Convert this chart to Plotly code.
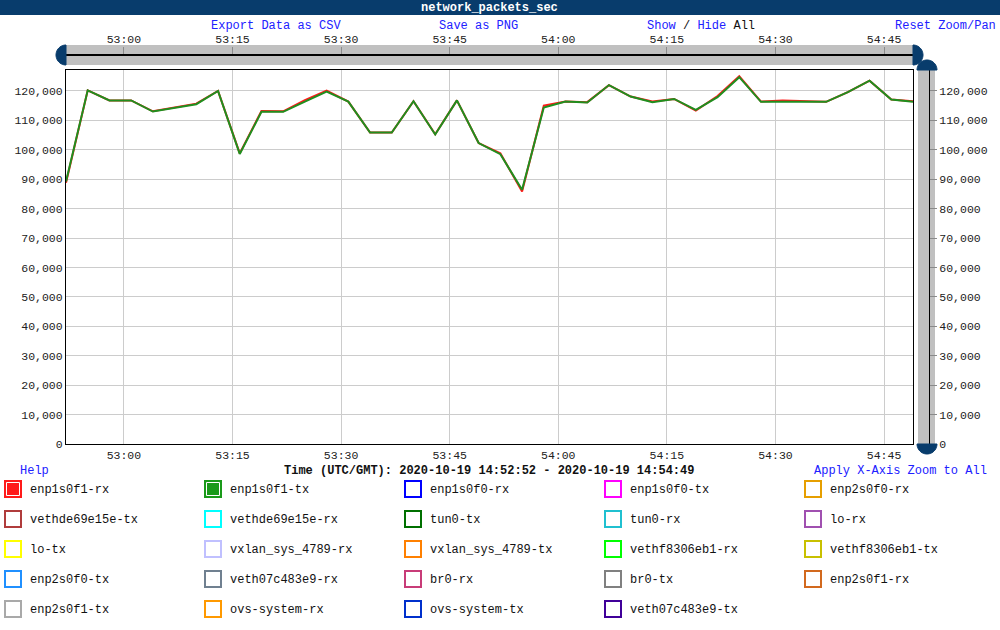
import math
import plotly.graph_objects as go

# ---------------- data ----------------
times = [
    "2020-10-19 14:52:52", "2020-10-19 14:52:55", "2020-10-19 14:52:58", "2020-10-19 14:53:01",
    "2020-10-19 14:53:04", "2020-10-19 14:53:07", "2020-10-19 14:53:10", "2020-10-19 14:53:13",
    "2020-10-19 14:53:16", "2020-10-19 14:53:19", "2020-10-19 14:53:22", "2020-10-19 14:53:25",
    "2020-10-19 14:53:28", "2020-10-19 14:53:31", "2020-10-19 14:53:34", "2020-10-19 14:53:37",
    "2020-10-19 14:53:40", "2020-10-19 14:53:43", "2020-10-19 14:53:46", "2020-10-19 14:53:49",
    "2020-10-19 14:53:52", "2020-10-19 14:53:55", "2020-10-19 14:53:58", "2020-10-19 14:54:01",
    "2020-10-19 14:54:04", "2020-10-19 14:54:07", "2020-10-19 14:54:10", "2020-10-19 14:54:13",
    "2020-10-19 14:54:16", "2020-10-19 14:54:19", "2020-10-19 14:54:22", "2020-10-19 14:54:25",
    "2020-10-19 14:54:28", "2020-10-19 14:54:31", "2020-10-19 14:54:34", "2020-10-19 14:54:37",
    "2020-10-19 14:54:40", "2020-10-19 14:54:43", "2020-10-19 14:54:46", "2020-10-19 14:54:49",
]
enp1s0f1_rx = [
    88800, 120200, 116800, 116800, 113100, 114500, 115700, 120000, 98800, 113200,
    113100, 116900, 120100, 116400, 105900, 105900, 116500, 105300, 116800, 102300,
    98800, 85800, 115000, 116400, 116200, 122000, 118100, 116400, 117300, 113300,
    118300, 125000, 116400, 116800, 116500, 116300, 119600, 123500, 117100, 116500,
]
enp1s0f1_tx = [
    89200, 120200, 116800, 116800, 113000, 114200, 115500, 120000, 98600, 112900,
    112900, 116400, 119800, 116400, 105900, 105900, 116500, 105200, 116800, 102300,
    98500, 86400, 114400, 116400, 116100, 122000, 118100, 116200, 117300, 113600,
    117900, 124700, 116300, 116300, 116300, 116300, 119600, 123500, 117100, 116300,
]
series_names = [
    "enp1s0f1-rx", "enp1s0f1-tx", "enp1s0f0-rx", "enp1s0f0-tx", "enp2s0f0-rx",
    "vethde69e15e-tx", "vethde69e15e-rx", "tun0-tx", "tun0-rx", "lo-rx",
    "lo-tx", "vxlan_sys_4789-rx", "vxlan_sys_4789-tx", "vethf8306eb1-rx", "vethf8306eb1-tx",
    "enp2s0f0-tx", "veth07c483e9-rx", "br0-rx", "br0-tx", "enp2s0f1-rx",
    "enp2s0f1-tx", "ovs-system-rx", "ovs-system-tx", "veth07c483e9-tx",
]
series_colors = [
    "#ff1a1a", "#1a9a1a", "#0000ff", "#ff00ff", "#e69f00",
    "#b03c3c", "#00ffff", "#007000", "#20c0d0", "#a050b0",
    "#ffff00", "#c0c0ff", "#ff8000", "#00ff00", "#c8c000",
    "#2090ff", "#708090", "#c83c78", "#808080", "#d2691e",
    "#a9a9a9", "#ff9900", "#0030cc", "#400099",
]
series_visible = [True, True] + [False] * 22

chart_title = "network_packets_sec"
time_label = "Time (UTC/GMT): 2020-10-19 14:52:52 - 2020-10-19 14:54:49"
y_range = [0, 127130]

# ---------------- geometry helpers (pixel -> paper) ----------------
W, H = 1000, 630
ML, MR, MT, MB = 66, 10, 16, 186
PW = W - ML - MR
PH = H - MT - MB


def px(x):
    return (x - ML) / PW


def py(y):
    return (H - MB - y) / PH


FONT = "Liberation Mono, Courier New, monospace"
LINK = "#2020ff"
DARK = "#083c6c"
BAR = "#c0c0c0"

fig = go.Figure()

line_colors = {"enp1s0f1-rx": "#ff1a1a", "enp1s0f1-tx": "#1f8f1f"}
for name, vals in (("enp1s0f1-rx", enp1s0f1_rx), ("enp1s0f1-tx", enp1s0f1_tx)):
    fig.add_trace(go.Scatter(
        x=times, y=vals, mode="lines", name=name,
        line=dict(color=line_colors[name], width=2),
        showlegend=False,
    ))
# invisible trace so the slider axes (x2 / y2) are drawn
fig.add_trace(go.Scatter(
    x=times, y=enp1s0f1_tx, xaxis="x2", yaxis="y2", mode="lines",
    line=dict(color="rgba(0,0,0,0)", width=0), hoverinfo="skip", showlegend=False,
))

x_end = px(913)
y_top = py(70)
axis_font = dict(family=FONT, size=11.5, color="#222")

fig.update_layout(
    width=W, height=H,
    margin=dict(l=ML, r=MR, t=MT, b=MB, autoexpand=False),
    paper_bgcolor="white", plot_bgcolor="white",
    showlegend=False,
    xaxis=dict(
        domain=[0, x_end], range=[times[0], times[-1]], type="date",
        tick0="2020-10-19 14:53:00", dtick=15000, tickformat="%M:%S",
        showgrid=True, gridcolor="#cccccc", gridwidth=1,
        showline=True, linecolor="black", linewidth=1, mirror=True,
        ticks="", tickfont=axis_font, zeroline=False, automargin=False,
    ),
    yaxis=dict(
        domain=[0, y_top], range=y_range, dtick=10000, tickformat=",d",
        showgrid=True, gridcolor="#cccccc", gridwidth=1,
        showline=True, linecolor="black", linewidth=1, mirror=True,
        ticks="", tickfont=axis_font, zeroline=False, automargin=False,
    ),
    xaxis2=dict(
        overlaying="x", matches="x", side="top", anchor="free", position=py(55),
        type="date", tick0="2020-10-19 14:53:00", dtick=15000, tickformat="%M:%S",
        showgrid=False, showline=True, linecolor="black", linewidth=1.5,
        ticks="outside", ticklen=7, tickcolor="#8a8a8a", tickwidth=1,
        tickfont=axis_font, zeroline=False, automargin=False,
    ),
    yaxis2=dict(
        overlaying="y", matches="y", side="right", anchor="free", position=px(929),
        range=y_range, dtick=10000, tickformat=",d",
        showgrid=False, showline=True, linecolor="black", linewidth=1,
        ticks="outside", ticklen=7, tickcolor="#8a8a8a", tickwidth=1,
        tickfont=axis_font, zeroline=False, automargin=False,
    ),
)

shapes = []


def rect_px(x0, y0, x1, y1, fill, line_color=None, line_width=0, layer="below"):
    shapes.append(dict(
        type="rect", xref="paper", yref="paper",
        x0=px(x0), x1=px(x1), y0=py(y1), y1=py(y0),
        fillcolor=fill, layer=layer,
        line=dict(color=line_color or fill, width=line_width),
    ))


def half_circle(cx, cy, r, a0, a1):
    pts = []
    n = 24
    for i in range(n + 1):
        a = math.radians(a0 + (a1 - a0) * i / n)
        pts.append((px(cx + r * math.cos(a)), py(cy - r * math.sin(a))))
    path = "M " + " L ".join(f"{x:.5f},{y:.5f}" for x, y in pts) + " Z"
    shapes.append(dict(type="path", xref="paper", yref="paper", path=path,
                       fillcolor=DARK, line=dict(color=DARK, width=1), layer="above"))


# title bar
rect_px(0, 0, 1000, 15, DARK)
# top range slider bar
rect_px(66, 45, 913, 65, BAR)
# right vertical slider bar
rect_px(918, 70, 935, 444, BAR)
# handles
half_circle(66, 55, 10, 90, 270)
half_circle(913, 55, 10, -90, 90)
half_circle(927, 70, 10, 0, 180)
half_circle(927, 444, 10, 180, 360)

# legend boxes
annotations = []
for i, (name, color) in enumerate(zip(series_names, series_colors)):
    col, row = i % 5, i // 5
    bx, by = 4 + 200 * col, 480 + 30 * row
    if series_visible[i]:
        rect_px(bx, by, bx + 18, by + 18, color, color, 0, layer="above")
        rect_px(bx + 2.5, by + 2.5, bx + 15.5, by + 15.5, color, "white", 1, layer="above")
    else:
        rect_px(bx + 1, by + 1, bx + 17, by + 17, "white", color, 2, layer="above")
    annotations.append(dict(
        xref="paper", yref="paper", x=px(bx + 24), y=py(by + 10),
        xanchor="left", yanchor="middle", showarrow=False,
        text=name, font=dict(family=FONT, size=12, color="#111"),
    ))


def label(x, y, text, color="#111", size=12, anchor="center"):
    annotations.append(dict(
        xref="paper", yref="paper", x=px(x), y=py(y),
        xanchor=anchor, yanchor="middle", showarrow=False,
        text=text, font=dict(family=FONT, size=size, color=color),
    ))


label(489, 7.5, f"<b>{chart_title}</b>", color="white", size=12)
label(276, 26, "Export Data as CSV", color=LINK)
label(478, 26, "Save as PNG", color=LINK)
label(701, 26, f'<span style="color:{LINK}">Show</span> / <span style="color:{LINK}">Hide</span> All')
label(998, 26, "Reset Zoom/Pan", color=LINK, anchor="right")
label(18, 471, "Help", color=LINK, anchor="left")
label(489, 471, f"<b>{time_label}</b>")
label(989, 471, "Apply X-Axis Zoom to All", color=LINK, anchor="right")

fig.update_layout(shapes=shapes, annotations=annotations)

fig.write_html(
    "out.html",
    config={"displayModeBar": False},
    post_script="document.body.style.margin='0';document.body.style.overflow='hidden';",
)
